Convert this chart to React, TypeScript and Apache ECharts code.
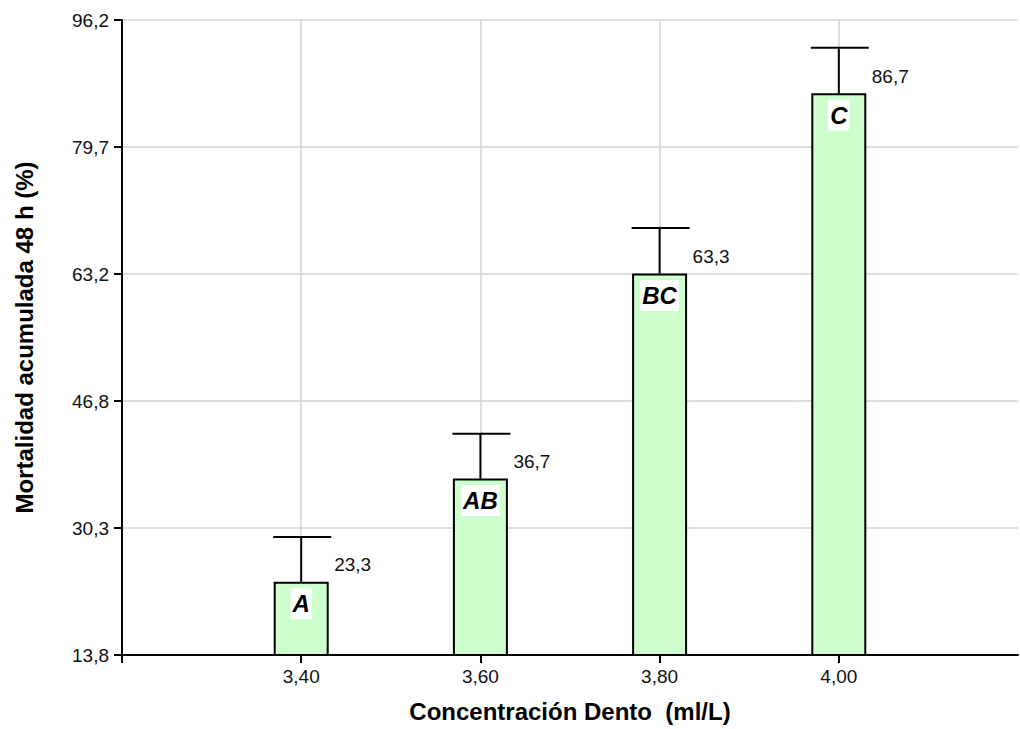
import React, { useEffect, useRef } from "react";
import * as echarts from "echarts";

// Dento concentration levels (ml/L) and 48 h cumulative mortality (%)
const concentrations = ["3,40", "3,60", "3,80", "4,00"];
const mortality = [23.3, 36.7, 63.3, 86.7];
const errorUpper = [29.1, 42.5, 69.2, 92.6];
const groupLetters = ["A", "AB", "BC", "C"];
const axisEdges = ["3,20", "4,20"];
const yMin = 13.8;
const yMax = 96.2;
const yStep = 16.48;

const FONT = "'Liberation Sans', Arial, sans-serif";
const fmt = (v: number) => v.toFixed(1).replace(".", ",");

export default function App() {
  const ref = useRef<HTMLDivElement>(null);

  useEffect(() => {
    if (!ref.current) return;
    const chart = echarts.init(ref.current, null, { renderer: "svg" });
    const categories = [axisEdges[0], ...concentrations, axisEdges[1]];
    const lastIdx = categories.length - 1;
    const barData = categories.map((_, i) =>
      i > 0 && i < lastIdx ? mortality[i - 1] : null
    );
    const errData = mortality.map((m, i) => [i + 1, m, errorUpper[i]]);

    chart.setOption({
      animation: false,
      backgroundColor: "#ffffff",
      grid: {
        left: 122,
        right: 2,
        top: 20,
        bottom: 74,
        containLabel: false,
        outerBoundsMode: "none",
      },
      xAxis: {
        type: "category",
        data: categories,
        boundaryGap: false,
        name: "Concentración Dento  (ml/L)",
        nameLocation: "middle",
        nameGap: 44,
        nameTextStyle: {
          fontFamily: FONT,
          fontSize: 24,
          fontWeight: "bold",
          color: "#000",
        },
        axisLine: { lineStyle: { color: "#000", width: 2 } },
        axisTick: {
          length: 8,
          interval: (i: number) => i < lastIdx,
          lineStyle: { color: "#000", width: 2 },
        },
        axisLabel: {
          interval: (i: number) => i > 0 && i < lastIdx,
          margin: 12,
          fontFamily: FONT,
          fontSize: 19,
          color: "#111",
        },
        splitLine: {
          show: true,
          interval: (i: number) => i > 0 && i < lastIdx,
          lineStyle: { color: "#d3d3d3", width: 1.5 },
        },
      },
      yAxis: {
        type: "value",
        min: yMin,
        max: yMax,
        interval: yStep,
        name: "Mortalidad acumulada 48 h (%)",
        nameLocation: "middle",
        nameGap: 86,
        nameTextStyle: {
          fontFamily: FONT,
          fontSize: 24,
          fontWeight: "bold",
          color: "#000",
        },
        axisLine: { show: true, lineStyle: { color: "#000", width: 2 } },
        axisTick: { show: true, length: 8, lineStyle: { color: "#000", width: 2 } },
        axisLabel: {
          margin: 13,
          fontFamily: FONT,
          fontSize: 19,
          color: "#111",
          formatter: (v: number) => fmt(v),
        },
        splitLine: { lineStyle: { color: "#d3d3d3", width: 1.5 } },
      },
      series: [
        {
          type: "bar",
          data: barData,
          barWidth: 55,
          itemStyle: { color: "#ccffcc", borderColor: "#000", borderWidth: 2 },
          label: {
            show: true,
            position: ["50%", 22],
            align: "center",
            verticalAlign: "middle",
            formatter: (p: any) => groupLetters[p.dataIndex - 1] ?? "",
            fontFamily: FONT,
            fontSize: 24,
            fontWeight: "bold",
            fontStyle: "italic",
            color: "#000",
            backgroundColor: "#ffffff",
            padding: [4, 2, 3, 2],
          },
          z: 2,
        },
        {
          type: "custom",
          data: errData,
          z: 3,
          renderItem: (_params: any, api: any) => {
            const x = api.value(0);
            const base = api.coord([x, api.value(1)]);
            const top = api.coord([x, api.value(2)]);
            const half = 29;
            return {
              type: "group",
              children: [
                {
                  type: "line",
                  shape: { x1: base[0], y1: base[1], x2: top[0], y2: top[1] },
                  style: { stroke: "#000", lineWidth: 2 },
                },
                {
                  type: "line",
                  shape: { x1: top[0] - half + 1, y1: top[1], x2: top[0] + half + 1, y2: top[1] },
                  style: { stroke: "#000", lineWidth: 2 },
                },
                {
                  type: "text",
                  x: base[0] + 33,
                  y: base[1] - 17,
                  style: {
                    text: fmt(api.value(1)),
                    fontFamily: FONT,
                    fontSize: 19,
                    fill: "#111",
                    align: "left",
                    verticalAlign: "middle",
                  },
                },
              ],
            };
          },
        },
      ],
    });
    return () => chart.dispose();
  }, []);

  return (
    <div
      ref={ref}
      style={{ position: "absolute", left: 0, top: 0, width: 1020, height: 729 }}
    />
  );
}
